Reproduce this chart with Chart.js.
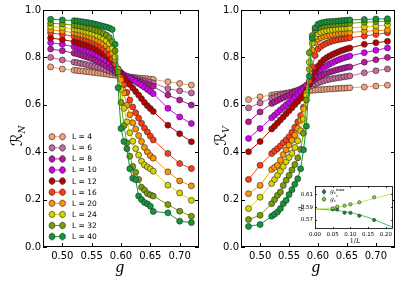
<!DOCTYPE html>
<html>
<head>
<meta charset="utf-8">
<script src="https://cdn.jsdelivr.net/npm/chart.js@4.4.0/dist/chart.umd.min.js"></script>
<style>
  body { margin: 0; background: #fff; }
  #wrap { position: relative; width: 415px; height: 294px; }
  canvas { position: absolute; }
</style>
</head>
<body>
<div id="wrap">
  <canvas id="left" width="207" height="294" style="left:0;top:0"></canvas>
  <canvas id="right" width="208" height="294" style="left:207px;top:0"></canvas>
  <canvas id="inset" width="112" height="66" style="left:290px;top:180px"></canvas>
</div>
<script>
// coupling values g shared by every curve
const G = [0.48, 0.50, 0.52, 0.525, 0.53, 0.535, 0.54, 0.545, 0.55, 0.555, 0.56, 0.565, 0.57, 0.575, 0.58,
           0.585, 0.59, 0.595, 0.60, 0.605, 0.61, 0.615, 0.62, 0.625, 0.63, 0.635, 0.64, 0.645, 0.65, 0.655,
           0.68, 0.70, 0.72];
const X_TICKS = [0.50, 0.55, 0.60, 0.65, 0.70];
const Y_TICKS = [0.0, 0.2, 0.4, 0.6, 0.8, 1.0];
const SIZES = ['L = 4', 'L = 6', 'L = 8', 'L = 10', 'L = 12', 'L = 16', 'L = 20', 'L = 24', 'L = 32', 'L = 40'];
const COLORS = ['#f5a27a', '#c96a9d', '#b8189c', '#d600f0', '#be0000', '#ff3d12', '#ff9500', '#d8d400', '#77a000', '#10983a'];

// left panel, R_N
const rn4  = [0.760,0.751,0.746,0.745,0.743,0.742,0.740,0.739,0.737,0.736,0.734,0.733,0.731,0.730,0.728,0.726,0.725,0.723,0.722,0.720,0.719,0.717,0.716,0.715,0.713,0.712,0.711,0.710,0.708,0.707,0.697,0.690,0.683];
const rn6  = [0.800,0.789,0.780,0.778,0.775,0.773,0.770,0.767,0.764,0.761,0.758,0.755,0.751,0.747,0.743,0.739,0.735,0.731,0.727,0.724,0.720,0.717,0.713,0.710,0.707,0.704,0.701,0.698,0.695,0.692,0.668,0.659,0.650];
const rn8  = [0.835,0.828,0.818,0.815,0.811,0.807,0.803,0.799,0.794,0.789,0.784,0.778,0.771,0.764,0.757,0.749,0.742,0.735,0.729,0.723,0.718,0.713,0.709,0.704,0.700,0.695,0.691,0.686,0.682,0.678,0.641,0.620,0.599];
const rn10 = [0.862,0.855,0.845,0.842,0.838,0.834,0.830,0.825,0.820,0.814,0.808,0.801,0.794,0.786,0.777,0.767,0.757,0.746,0.736,0.727,0.719,0.712,0.705,0.698,0.690,0.682,0.674,0.665,0.656,0.647,0.585,0.549,0.521];
const rn12 = [0.882,0.875,0.866,0.863,0.859,0.855,0.851,0.847,0.842,0.836,0.829,0.822,0.814,0.805,0.794,0.781,0.767,0.749,0.731,0.716,0.701,0.686,0.671,0.656,0.641,0.626,0.610,0.596,0.584,0.572,0.514,0.478,0.444];
const rn16 = [0.903,0.897,0.889,0.886,0.883,0.879,0.875,0.871,0.866,0.860,0.853,0.845,0.836,0.825,0.812,0.795,0.772,0.745,0.715,0.685,0.652,0.620,0.591,0.566,0.544,0.522,0.502,0.485,0.468,0.452,0.395,0.352,0.331];
const rn20 = [0.916,0.911,0.904,0.901,0.898,0.895,0.892,0.888,0.883,0.878,0.872,0.866,0.858,0.849,0.836,0.818,0.790,0.752,0.705,0.650,0.598,0.558,0.524,0.498,0.470,0.445,0.420,0.401,0.385,0.375,0.317,0.279,0.258];
const rn24 = [0.930,0.926,0.920,0.918,0.915,0.912,0.909,0.905,0.901,0.897,0.892,0.886,0.879,0.870,0.858,0.838,0.802,0.748,0.665,0.585,0.528,0.482,0.446,0.415,0.388,0.362,0.346,0.338,0.330,0.320,0.261,0.228,0.197];
const rn32 = [0.944,0.941,0.936,0.934,0.932,0.929,0.926,0.923,0.920,0.916,0.912,0.907,0.901,0.894,0.884,0.866,0.828,0.738,0.610,0.512,0.440,0.383,0.340,0.315,0.285,0.252,0.240,0.226,0.220,0.215,0.179,0.151,0.130];
const rn40 = [0.961,0.958,0.955,0.954,0.952,0.950,0.948,0.946,0.944,0.941,0.938,0.935,0.931,0.928,0.924,0.918,0.855,0.672,0.500,0.445,0.415,0.330,0.290,0.284,0.215,0.200,0.188,0.182,0.172,0.150,0.144,0.109,0.103];

// right panel, R_V
const rv4  = [0.622,0.634,0.641,0.643,0.644,0.646,0.647,0.649,0.650,0.652,0.653,0.655,0.656,0.658,0.659,0.660,0.661,0.662,0.663,0.664,0.665,0.666,0.667,0.667,0.668,0.669,0.670,0.670,0.671,0.672,0.675,0.679,0.683];
const rv6  = [0.587,0.608,0.628,0.632,0.636,0.640,0.644,0.647,0.651,0.654,0.658,0.661,0.665,0.669,0.673,0.677,0.682,0.687,0.692,0.697,0.701,0.705,0.708,0.710,0.712,0.714,0.716,0.718,0.720,0.722,0.735,0.744,0.751];
const rv8  = [0.528,0.570,0.605,0.612,0.618,0.624,0.630,0.636,0.642,0.648,0.654,0.660,0.667,0.674,0.682,0.690,0.699,0.708,0.716,0.722,0.728,0.733,0.738,0.742,0.746,0.749,0.752,0.755,0.758,0.760,0.780,0.790,0.800];
const rv10 = [0.458,0.500,0.545,0.556,0.567,0.578,0.589,0.600,0.610,0.621,0.632,0.643,0.655,0.667,0.681,0.696,0.712,0.727,0.740,0.750,0.758,0.765,0.772,0.778,0.784,0.789,0.794,0.798,0.802,0.806,0.820,0.830,0.840];
const rv12 = [0.402,0.445,0.498,0.510,0.523,0.536,0.549,0.562,0.575,0.588,0.601,0.614,0.628,0.643,0.662,0.686,0.712,0.738,0.763,0.778,0.790,0.799,0.806,0.812,0.818,0.823,0.828,0.832,0.836,0.840,0.855,0.862,0.868];
const rv16 = [0.285,0.345,0.394,0.405,0.415,0.426,0.440,0.452,0.465,0.484,0.505,0.528,0.555,0.590,0.640,0.700,0.760,0.808,0.835,0.846,0.854,0.860,0.865,0.869,0.872,0.875,0.877,0.879,0.881,0.883,0.890,0.897,0.904];
const rv20 = [0.225,0.260,0.327,0.336,0.345,0.366,0.390,0.410,0.430,0.450,0.472,0.500,0.535,0.582,0.650,0.750,0.830,0.862,0.876,0.883,0.888,0.891,0.894,0.896,0.898,0.900,0.902,0.903,0.904,0.905,0.910,0.913,0.915];
const rv24 = [0.162,0.210,0.268,0.285,0.303,0.320,0.340,0.360,0.378,0.396,0.420,0.448,0.490,0.540,0.640,0.780,0.860,0.888,0.900,0.906,0.910,0.913,0.915,0.917,0.919,0.920,0.921,0.922,0.923,0.924,0.929,0.933,0.937];
const rv32 = [0.116,0.134,0.183,0.200,0.218,0.232,0.260,0.282,0.302,0.325,0.348,0.376,0.412,0.480,0.620,0.820,0.892,0.915,0.925,0.930,0.933,0.935,0.937,0.938,0.939,0.940,0.941,0.942,0.943,0.944,0.948,0.951,0.953];
const rv40 = [0.087,0.095,0.130,0.138,0.148,0.162,0.183,0.197,0.221,0.242,0.265,0.288,0.330,0.410,0.510,0.720,0.880,0.925,0.940,0.945,0.948,0.950,0.951,0.952,0.953,0.954,0.955,0.956,0.957,0.958,0.960,0.962,0.963];

// inset: crossing points vs 1/L
const invL = [0.05, 0.0625, 0.0833, 0.10, 0.125, 0.1667];
const gcMax = [0.5867, 0.5865, 0.5814, 0.5812, 0.5767, 0.5700];
const gcStar = [0.5883, 0.5908, 0.5923, 0.5945, 0.5976, 0.6054];
const fitX = [0, 0.05, 0.10, 0.15, 0.22];
const fitMax = [0.5872, 0.5855, 0.5815, 0.5740, 0.5586];
const fitStar = [0.5872, 0.5890, 0.5935, 0.6010, 0.6116];
const INSET_X_TICKS = [0, 0.05, 0.10, 0.15, 0.20];
const INSET_Y_TICKS = [0.57, 0.59, 0.61];

const TICK_FONT = { family: 'DejaVu Sans', size: 10 };

function pts(xs, ys) {
    return xs.map((x, i) => ({ x: x, y: ys[i] }));
}

function mainDatasets(series) {
    return series.map((ys, i) => ({
        label: SIZES[i],
        data: pts(G, ys),
        borderColor: COLORS[i],
        backgroundColor: COLORS[i],
        pointBackgroundColor: COLORS[i],
        pointBorderColor: '#262626',
        pointBorderWidth: 0.6,
        pointRadius: 3,
        borderWidth: 1,
        tension: 0,
        order: series.length - i
    }));
}

// box around the plot with matplotlib style inward ticks on all sides
const framePlugin = {
    id: 'frame',
    beforeDatasetsDraw(chart, args, opts) {
        if (!opts.fill) return;
        const a = chart.chartArea;
        chart.ctx.save();
        chart.ctx.fillStyle = '#fff';
        chart.ctx.fillRect(a.left, a.top, a.width, a.height);
        chart.ctx.restore();
    },
    afterDatasetsDraw(chart, args, opts) {
        const { ctx, chartArea: a, scales } = chart;
        const len = opts.len;
        ctx.save();
        ctx.strokeStyle = '#000';
        ctx.lineWidth = opts.lw;
        ctx.beginPath();
        scales.x.ticks.forEach(t => {
            const px = Math.round(scales.x.getPixelForValue(t.value)) + 0.5;
            ctx.moveTo(px, a.bottom); ctx.lineTo(px, a.bottom - len);
            ctx.moveTo(px, a.top); ctx.lineTo(px, a.top + len);
        });
        scales.y.ticks.forEach(t => {
            const py = Math.round(scales.y.getPixelForValue(t.value)) + 0.5;
            ctx.moveTo(a.left, py); ctx.lineTo(a.left + len, py);
            ctx.moveTo(a.right, py); ctx.lineTo(a.right - len, py);
        });
        ctx.stroke();
        ctx.strokeRect(Math.round(a.left) + 0.5, Math.round(a.top) + 0.5,
                       Math.round(a.width) - 1, Math.round(a.height) - 1);
        ctx.restore();
    }
};

// writes a run of text pieces (font, text, baseline shift) one after another
function drawPieces(ctx, pieces, x, y, align) {
    let total = 0;
    pieces.forEach(p => { ctx.font = p.font; total += ctx.measureText(p.text).width; });
    let cx = align === 'center' ? x - total / 2 : x;
    ctx.textAlign = 'left';
    ctx.textBaseline = 'alphabetic';
    pieces.forEach(p => {
        ctx.font = p.font;
        ctx.fillText(p.text, cx, y + (p.dy || 0));
        cx += ctx.measureText(p.text).width;
    });
}

const axisTextPlugin = {
    id: 'axisText',
    afterDraw(chart, args, o) {
        const ctx = chart.ctx;
        ctx.save();
        ctx.fillStyle = '#000';
        ctx.save();
        ctx.translate(o.yx, o.yy);
        ctx.rotate(-Math.PI / 2);
        drawPieces(ctx, o.yPieces, 0, 0, 'center');
        ctx.restore();
        drawPieces(ctx, o.xPieces, o.xx, o.xy, 'center');
        ctx.restore();
    }
};

function errMarker(ctx, x, y, color, r, bar, cap) {
    ctx.save();
    ctx.globalAlpha = 0.45;
    ctx.strokeStyle = color;
    ctx.lineWidth = 1;
    ctx.beginPath();
    ctx.moveTo(x, y - bar); ctx.lineTo(x, y + bar);
    ctx.moveTo(x - cap, y - bar); ctx.lineTo(x + cap, y - bar);
    ctx.moveTo(x - cap, y + bar); ctx.lineTo(x + cap, y + bar);
    ctx.stroke();
    ctx.restore();
    ctx.beginPath();
    ctx.arc(x, y, r, 0, Math.PI * 2);
    ctx.fillStyle = color;
    ctx.fill();
    ctx.lineWidth = 0.6;
    ctx.strokeStyle = '#262626';
    ctx.stroke();
}

const sizeLegendPlugin = {
    id: 'sizeLegend',
    afterDraw(chart, args, o) {
        const ctx = chart.ctx;
        ctx.save();
        chart.data.datasets.forEach((ds, i) => {
            const y = o.y0 + i * o.dy;
            ctx.strokeStyle = ds.borderColor;
            ctx.lineWidth = 1;
            ctx.beginPath();
            ctx.moveTo(o.x1, y); ctx.lineTo(o.x2, y);
            ctx.stroke();
            errMarker(ctx, o.x1, y, ds.borderColor, 3, 3.5, 1.5);
            errMarker(ctx, o.x2, y, ds.borderColor, 3, 3.5, 1.5);
            ctx.fillStyle = '#000';
            ctx.font = '7.5px "DejaVu Sans"';
            ctx.textAlign = 'left';
            ctx.textBaseline = 'middle';
            ctx.fillText(ds.label, o.tx, y + 0.5);
        });
        ctx.restore();
    }
};

function mainChart(id, series, padRight, yWidth, text, extraPlugins, extraOpts) {
    const plugins = { legend: { display: false }, tooltip: { enabled: false },
                      frame: { len: 4, lw: 1 }, axisText: text };
    Object.assign(plugins, extraOpts || {});
    return new Chart(document.getElementById(id), {
        type: 'line',
        data: { datasets: mainDatasets(series) },
        plugins: [framePlugin, axisTextPlugin].concat(extraPlugins || []),
        options: {
            responsive: false,
            animation: false,
            events: [],
            layout: { padding: { top: 10, right: padRight, left: 0, bottom: 0 } },
            plugins: plugins,
            scales: {
                x: {
                    type: 'linear', min: 0.467, max: 0.733,
                    afterBuildTicks: s => { s.ticks = X_TICKS.map(v => ({ value: v })); },
                    afterFit: s => { s.height = 47; },
                    ticks: { callback: v => v.toFixed(2), font: TICK_FONT, color: '#000', padding: 3, maxRotation: 0, autoSkip: false },
                    grid: { display: false, drawTicks: false },
                    border: { display: false }
                },
                y: {
                    type: 'linear', min: 0, max: 1,
                    afterBuildTicks: s => { s.ticks = Y_TICKS.map(v => ({ value: v })); },
                    afterFit: s => { s.width = yWidth; },
                    ticks: { callback: v => v.toFixed(1), font: TICK_FONT, color: '#000', padding: 2 },
                    grid: { display: false, drawTicks: false },
                    border: { display: false }
                }
            }
        }
    });
}

const gFont = 'italic 17px "Liberation Serif"';

mainChart('left', [rn4, rn6, rn8, rn10, rn12, rn16, rn20, rn24, rn32, rn40], 8, 43, {
    yx: 22, yy: 136,
    yPieces: [{ text: 'ℛ', font: '16px "DejaVu Sans"' }, { text: 'N', font: 'italic 9px "DejaVu Serif"', dy: 3 }],
    xx: 120, xy: 272,
    xPieces: [{ text: 'g', font: gFont }]
}, [sizeLegendPlugin], { sizeLegend: { x1: 52, x2: 62.5, tx: 72, y0: 136.7, dy: 11.1 } });

mainChart('right', [rv4, rv6, rv8, rv10, rv12, rv16, rv20, rv24, rv32, rv40], 20, 34, {
    yx: 19, yy: 136,
    yPieces: [{ text: 'ℛ', font: '16px "DejaVu Sans"' }, { text: 'V', font: 'italic 9px "DejaVu Serif"', dy: 3 }],
    xx: 109, xy: 272,
    xPieces: [{ text: 'g', font: gFont }]
});

// inset
const INSET_DARK = '#17853b';
const INSET_LIGHT = '#92d13c';
const INSET_FONT = { family: 'DejaVu Sans', size: 5.5 };

const insetLegendPlugin = {
    id: 'insetLegend',
    afterDraw(chart, args, o) {
        const ctx = chart.ctx;
        ctx.save();
        const rows = [
            { color: INSET_DARK, sup: 'max' },
            { color: INSET_LIGHT, sup: '*' }
        ];
        rows.forEach((r, i) => {
            const y = o.y0 + i * o.dy;
            errMarker(ctx, o.x, y, r.color, 1.7, 2.5, 1);
            ctx.fillStyle = '#000';
            drawPieces(ctx, [
                { text: 'g', font: 'italic 6px "DejaVu Serif"' },
                { text: 'c', font: 'italic 4px "DejaVu Serif"', dy: 1.2 },
                { text: r.sup, font: '4px "DejaVu Serif"', dy: -2.6 }
            ], o.tx, y + 1.5, 'left');
        });
        ctx.restore();
    }
};

new Chart(document.getElementById('inset'), {
    type: 'line',
    data: {
        datasets: [
            { label: 'fit max', data: pts(fitX, fitMax), borderColor: '#4cbf73', borderWidth: 1, pointRadius: 0, cubicInterpolationMode: 'monotone', order: 4 },
            { label: 'fit star', data: pts(fitX, fitStar), borderColor: '#b6ef62', borderWidth: 1, pointRadius: 0, cubicInterpolationMode: 'monotone', order: 3 },
            { label: 'gc max', data: pts(invL, gcMax), showLine: false, pointRadius: 1.7, pointBackgroundColor: INSET_DARK, pointBorderColor: '#262626', pointBorderWidth: 0.5, order: 2 },
            { label: 'gc star', data: pts(invL, gcStar), showLine: false, pointRadius: 1.7, pointBackgroundColor: INSET_LIGHT, pointBorderColor: '#262626', pointBorderWidth: 0.5, order: 1 }
        ]
    },
    plugins: [framePlugin, axisTextPlugin, insetLegendPlugin],
    options: {
        responsive: false,
        animation: false,
        events: [],
        layout: { padding: { top: 6, right: 9, left: 0, bottom: 0 } },
        plugins: {
            legend: { display: false }, tooltip: { enabled: false },
            frame: { len: 2, lw: 0.8, fill: true },
            axisText: {
                yx: 12, yy: 27.5,
                yPieces: [{ text: 'g', font: 'italic 7px "DejaVu Serif"' }, { text: 'c', font: 'italic 5px "DejaVu Serif"', dy: 1.5 }],
                xx: 65, xy: 63,
                xPieces: [{ text: '1/', font: '6.5px "DejaVu Serif"' }, { text: 'L', font: 'italic 6.5px "DejaVu Serif"' }]
            },
            insetLegend: { x: 34, tx: 40, y0: 11.7, dy: 7.6 }
        },
        scales: {
            x: {
                type: 'linear', min: 0, max: 0.22,
                afterBuildTicks: s => { s.ticks = INSET_X_TICKS.map(v => ({ value: v })); },
                afterFit: s => { s.height = 17; },
                ticks: { callback: v => v.toFixed(2), font: INSET_FONT, color: '#000', padding: 2, maxRotation: 0, autoSkip: false },
                grid: { display: false, drawTicks: false },
                border: { display: false }
            },
            y: {
                type: 'linear', min: 0.556, max: 0.623,
                afterBuildTicks: s => { s.ticks = INSET_Y_TICKS.map(v => ({ value: v })); },
                afterFit: s => { s.width = 25; },
                ticks: { callback: v => v.toFixed(2), font: INSET_FONT, color: '#000', padding: 2 },
                grid: { display: false, drawTicks: false },
                border: { display: false }
            }
        }
    }
});
</script>
</body>
</html>
